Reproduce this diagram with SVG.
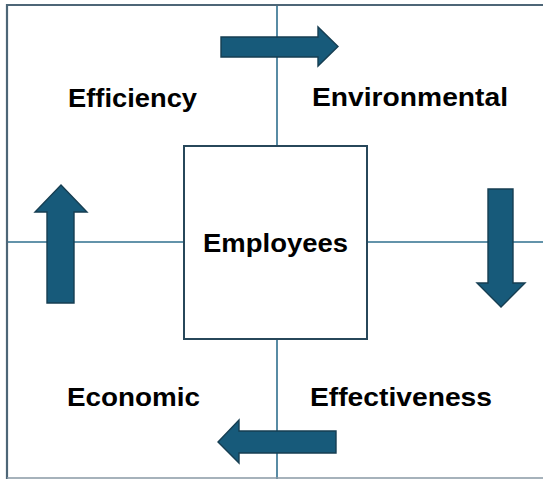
<svg xmlns="http://www.w3.org/2000/svg" width="543" height="479" viewBox="0 0 543 479">
  <style>
    .grid { stroke: #2f6f8e; stroke-width: 1.6; fill: none; }
    .frame { stroke: #4d6677; stroke-width: 2.2; fill: none; }
    .arrow { fill: #175a7a; stroke: #163e52; stroke-width: 1.4; stroke-linejoin: miter; }
    .lbl { font-family: "Liberation Sans", Arial, sans-serif; font-weight: bold; font-size: 26px; fill: #000; }
  </style>
  <rect width="543" height="479" fill="#ffffff"/>

  <!-- quadrant dividers and outer frame -->
  <g id="connectors">
    <line class="grid" x1="277" y1="5" x2="277" y2="479"/>
    <line class="grid" x1="7" y1="242" x2="543" y2="242"/>
    <line class="frame" x1="7" y1="5" x2="543" y2="5"/>
    <line class="frame" x1="7" y1="4" x2="7" y2="479"/>
    <line x1="7" y1="478" x2="543" y2="478" stroke="#8898a4" stroke-width="1.6"/>

    <!-- cycle arrows -->
    <polygon class="arrow" points="221,37 318,37 318,27 338,46.5 318,66 318,57 221,57"/>
    <polygon class="arrow" points="488,189 513,189 513,283 525,283 501,307 477,283 488,283"/>
    <polygon class="arrow" points="336,431 336,453 239,453 239,463 218,442 239,420 239,431"/>
    <polygon class="arrow" points="47,303 47,212 35,212 61,185 87,212 74,212 74,303"/>
  </g>

  <g id="employees">
    <rect x="184" y="146" width="183" height="193" fill="#ffffff" stroke="#27475a" stroke-width="2"/>
    <text class="lbl" x="275.5" y="252" text-anchor="middle" textLength="145" lengthAdjust="spacingAndGlyphs">Employees</text>
  </g>
  <g id="efficiency">
    <text class="lbl" x="68" y="107" textLength="129" lengthAdjust="spacingAndGlyphs">Efficiency</text>
  </g>
  <g id="environmental">
    <text class="lbl" x="312" y="106" textLength="196" lengthAdjust="spacingAndGlyphs">Environmental</text>
  </g>
  <g id="economic">
    <text class="lbl" x="67" y="406" textLength="133" lengthAdjust="spacingAndGlyphs">Economic</text>
  </g>
  <g id="effectiveness">
    <text class="lbl" x="310" y="406" textLength="182" lengthAdjust="spacingAndGlyphs">Effectiveness</text>
  </g>
</svg>
